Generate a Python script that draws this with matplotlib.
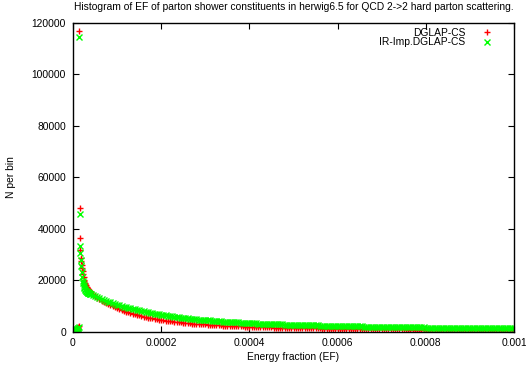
import numpy as np
import matplotlib
matplotlib.use('Agg')
import matplotlib.pyplot as plt

plt.rcParams['font.family'] = ['Liberation Sans', 'DejaVu Sans']

# bin centres, in units of 1e-6 energy fraction
ef_fine = np.arange(1, 41)
ef_tail = np.arange(45, 1001, 5)

dglap_fine = [0, 0, 100, 200, 300, 400, 500, 700, 900, 1100, 1400, 1800, 2300,
              117000, 47900, 36300, 31600, 28600, 27300, 26000, 24700, 23500, 22300,
              21200, 20200, 19500, 18900, 18300, 17900, 17500, 17200, 16920, 16660,
              16420, 16200, 16000, 15810, 15630, 15460, 15300]
irimp_fine = [0, 100, 100, 200, 300, 400, 500, 600, 800, 1000, 1200, 1500, 1900,
              114500, 45700, 33300, 30500, 28000, 25500, 23200, 21300, 19800, 18700,
              17900, 17300, 16800, 16400, 16100, 15850, 15650, 15500, 15350, 15200,
              15100, 15000, 14900, 14800, 14700, 14600, 14500]

dglap_tail = [14550, 13850, 13200, 12600, 12050, 11550, 11070, 10620, 10200, 9800, 9420, 9060,
              8720, 8390, 8070, 7760, 7480, 7210, 6950, 6700,
              6460, 6230, 6010, 5800, 5600, 5410, 5230, 5060, 4900, 4750, 4610, 4480,
              4350, 4230, 4110, 4000, 3890, 3790, 3690, 3600, 3510, 3420,
              3340, 3260, 3180, 3110, 3040, 2970, 2910, 2850, 2790, 2730,
              2670, 2615, 2560, 2505, 2455, 2405, 2355, 2310, 2265, 2220,
              2180, 2140, 2100, 2060, 2020, 1985, 1950, 1915, 1880, 1850,
              1820, 1790, 1760, 1730, 1700, 1675, 1650, 1625, 1600, 1575,
              1550, 1530, 1510, 1490, 1470, 1450, 1430, 1410, 1390, 1370,
              1350, 1335, 1320, 1300, 1285, 1270, 1255, 1240, 1225, 1210,
              1195, 1180, 1165, 1150, 1140, 1125, 1110, 1100, 1085, 1075,
              1060, 1050, 1040, 1025, 1015, 1005, 995, 980, 970, 960,
              950, 940, 930, 920, 910, 905, 895, 885, 875, 865,
              855, 850, 840, 835, 825, 815, 810, 800, 795, 790,
              780, 775, 765, 760, 755, 745, 740, 730, 725, 720,
              715, 705, 700, 695, 690, 685, 675, 670, 665, 660,
              655, 650, 640, 635, 630, 625, 620, 615, 610, 605,
              600, 595, 590, 585, 580, 575, 570, 565, 560, 555,
              553, 549, 545, 541, 537, 533, 529, 525, 521, 517]
irimp_tail = [14100, 13700, 13320, 12950, 12600, 12250, 11920, 11600, 11300, 11000, 10720, 10450,
              10190, 9930, 9690, 9450, 9220, 8990, 8770, 8560,
              8360, 8170, 7980, 7800, 7630, 7460, 7290, 7120, 6960, 6810, 6660, 6520,
              6375, 6235, 6100, 5970, 5845, 5725, 5610, 5500, 5395, 5290,
              5190, 5095, 5000, 4910, 4825, 4740, 4660, 4580, 4505, 4430,
              4355, 4282, 4211, 4142, 4075, 4010, 3947, 3886, 3827, 3770,
              3714, 3660, 3607, 3556, 3506, 3458, 3411, 3365, 3320, 3276,
              3233, 3191, 3150, 3110, 3071, 3033, 2996, 2960, 2925, 2891,
              2858, 2826, 2795, 2765, 2736, 2707, 2679, 2652, 2625, 2599,
              2573, 2548, 2523, 2499, 2475, 2452, 2429, 2406, 2384, 2362,
              2341, 2320, 2299, 2279, 2259, 2239, 2220, 2201, 2182, 2164,
              2144, 2124, 2104, 2085, 2066, 2047, 2029, 2011, 1993, 1976,
              1959, 1942, 1926, 1910, 1894, 1879, 1864, 1849, 1834, 1820,
              1804, 1789, 1774, 1759, 1745, 1731, 1717, 1703, 1689, 1676,
              1663, 1650, 1637, 1624, 1612, 1600, 1588, 1576, 1564, 1552,
              1540, 1528, 1516, 1505, 1494, 1483, 1472, 1461, 1450, 1440,
              1430, 1420, 1410, 1400, 1390, 1380, 1371, 1362, 1353, 1344,
              1334, 1324, 1315, 1306, 1297, 1288, 1279, 1270, 1261, 1253,
              1245, 1237, 1229, 1221, 1213, 1205, 1197, 1189, 1181, 1173]

ef = np.concatenate([ef_fine, ef_tail]) * 1e-6
dglap = np.array(dglap_fine + dglap_tail)
irimp = np.array(irimp_fine + irimp_tail)

xticks = [0, 0.0002, 0.0004, 0.0006, 0.0008, 0.001]
xticklabels = ['0', '0.0002', '0.0004', '0.0006', '0.0008', '0.001']
yticks = [0, 20000, 40000, 60000, 80000, 100000, 120000]

W, H = 526, 371
fig = plt.figure(figsize=(W/100., H/100.), dpi=100)
ax = fig.add_axes([73./W, 1-331.5/H, 441./W, 308.5/H])

fs = 7.38
ax.plot(ef, dglap, '+', color='#ff0000', ms=5.0, mew=1.0, ls='none', label='DGLAP-CS')
ax.plot(ef, irimp, 'x', color='#00ff00', ms=4.3, mew=1.0, ls='none', label='IR-Imp.DGLAP-CS')

ax.set_xlim(0, 0.001)
ax.set_ylim(0, 120000)
ax.set_xticks(xticks)
ax.set_xticklabels(xticklabels)
ax.set_yticks(yticks)
ax.set_yticklabels([str(v) for v in yticks])
ax.tick_params(direction='in', top=True, right=True, length=4.5, width=0.8,
               labelsize=fs, pad=5)
for s in ax.spines.values():
    s.set_linewidth(1.0)

ax.legend(loc='upper right', bbox_to_anchor=(0.950, 0.985), frameon=False,
          markerfirst=False, fontsize=fs, borderaxespad=0, borderpad=0,
          handlelength=1.0, handletextpad=1.6, labelspacing=-0.05)

fig.text(293.5/W, 1-7./H, 'Histogram of EF of parton shower constituents in herwig6.5 for QCD 2->2 hard parton scattering.',
         ha='center', va='center', fontsize=fs)
fig.text(293.5/W, 1-357./H, 'Energy fraction (EF)', ha='center', va='center', fontsize=fs)
fig.text(11.5/W, 1-177./H, 'N per bin', ha='center', va='center', rotation=90, fontsize=fs)

fig.savefig('out.png', dpi=100)
